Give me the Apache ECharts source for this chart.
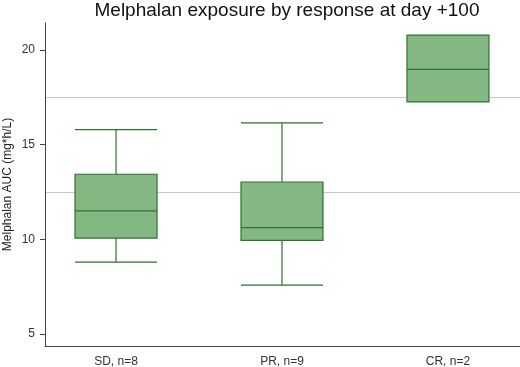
<!DOCTYPE html>
<html>
<head>
<meta charset="utf-8">
<script src="https://cdn.jsdelivr.net/npm/echarts@6/dist/echarts.min.js"></script>
<style>
html, body { margin: 0; padding: 0; background: #fff; }
#main { width: 520px; height: 367px; }
</style>
</head>
<body>
<div id="main"></div>
<script>
// groups and box stats: [min, Q1, median, Q3, max]
var groups = ['SD, n=8', 'PR, n=9', 'CR, n=2'];
var sdStats = [8.8, 10.07, 11.5, 13.44, 15.8];
var prStats = [7.58, 9.95, 10.62, 13.03, 16.15];
var crStats = [17.26, 17.26, 18.98, 20.79, 20.79];
var yTicks = [5, 10, 15, 20];
var refLines = [12.5, 17.5];

var stats = [sdStats, prStats, crStats];
var boxData = [];
for (let i = 0; i < stats.length; i++) {
    boxData.push([i + 1].concat(stats[i]));
}

var myChart = echarts.init(document.getElementById('main'), null, {renderer: 'canvas'});

var option = {
    animation: false,
    title: {
        text: 'Melphalan exposure by response at day +100',
        left: 282,
        textAlign: 'center',
        top: -4,
        textStyle: {
            fontFamily: 'Liberation Sans, Arial, sans-serif',
            fontSize: 19,
            fontWeight: 'normal',
            color: '#111'
        }
    },
    grid: {
        left: 45,
        right: 0,
        top: 23,
        bottom: 21,
        outerBoundsMode: 'none'
    },
    xAxis: {
        type: 'value',
        min: 0.572,
        max: 3.434,
        splitLine: {show: false},
        axisLine: {show: true, onZero: false, lineStyle: {color: '#444', width: 1}},
        axisTick: {show: false},
        axisLabel: {
            customValues: [1, 2, 3],
            formatter: function (v) { return groups[Math.round(v) - 1] || ''; },
            margin: 10,
            fontFamily: 'Liberation Sans, Arial, sans-serif',
            fontSize: 12,
            color: '#333'
        }
    },
    yAxis: {
        type: 'value',
        min: 4.366,
        max: 21.43,
        name: 'Melphalan AUC (mg*h/L)',
        nameLocation: 'middle',
        nameGap: 31,
        nameMoveOverlap: false,
        nameTextStyle: {
            fontFamily: 'Liberation Sans, Arial, sans-serif',
            fontSize: 12,
            color: '#222'
        },
        splitLine: {show: false},
        axisLine: {show: true, onZero: false, lineStyle: {color: '#444', width: 1}},
        axisTick: {
            show: true,
            customValues: yTicks,
            length: 5,
            lineStyle: {color: '#444'}
        },
        axisLabel: {
            customValues: yTicks,
            margin: 10,
            fontFamily: 'Liberation Sans, Arial, sans-serif',
            fontSize: 12,
            color: '#333'
        }
    },
    series: [
        {
            type: 'boxplot',
            data: boxData,
            boxWidth: [82, 82],
            itemStyle: {
                color: '#84b882',
                borderColor: '#2f722f',
                borderWidth: 1.2
            },
            markLine: {
                silent: true,
                symbol: 'none',
                label: {show: false},
                lineStyle: {color: '#c8c8c8', type: 'solid', width: 1},
                data: refLines.map(function (v) { return {yAxis: v}; }),
                z: 0
            }
        }
    ]
};

myChart.setOption(option);
</script>
</body>
</html>
